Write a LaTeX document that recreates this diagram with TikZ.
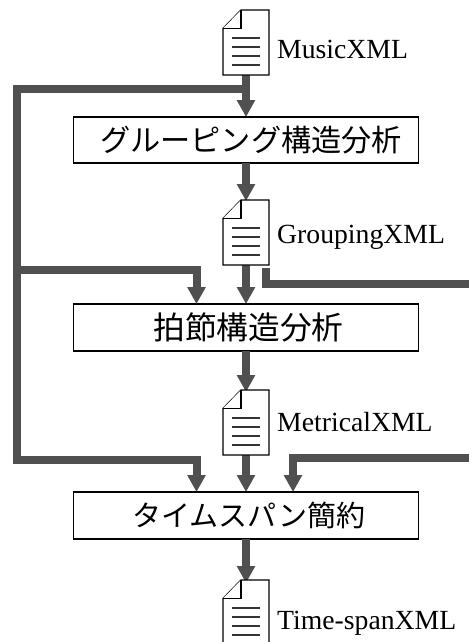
\documentclass[tikz,border=0pt]{standalone}
\usepackage{fontspec}
\setmainfont{Liberation Serif}
\newfontfamily\cjkfont{Noto Sans CJK JP}
\usetikzlibrary{arrows.meta}
\definecolor{flowgray}{HTML}{505050}
\tikzset{
  procbox/.style={draw=black,line width=1.2pt,fill=white,minimum width=345pt,minimum height=46pt,inner sep=0pt,outer sep=0pt,anchor=north west},
  docbox/.style={minimum width=46pt,minimum height=65pt,inner sep=0pt,outer sep=0pt,anchor=north west},
  docline/.style={draw=black,line width=1.3pt,fill=white,line join=miter},
  docrule/.style={draw=black!80,line width=1.1pt},
  doclabel/.style={anchor=base west,inner sep=0pt,font=\fontsize{27.7}{30}\selectfont},
  flow/.style={draw=flowgray,line width=8pt,line cap=butt,line join=miter},
  flowarrow/.style={flow,-{Triangle[width=17.5pt,length=17pt]}},
}
\newcommand{\docicon}[1]{%
  \draw[docline] ([xshift=18pt]#1.north west) -- (#1.north east) -- (#1.south east) -- (#1.south west) -- ([yshift=-18.5pt]#1.north west) -- cycle;
  \draw[docline] ([xshift=18pt]#1.north west) -- ([xshift=18pt,yshift=-18.5pt]#1.north west) -- ([yshift=-18.5pt]#1.north west);
  \foreach \dy in {28,37,46,55}
    \draw[docrule] ([xshift=9pt,yshift=-\dy pt]#1.north west) -- ([xshift=37pt,yshift=-\dy pt]#1.north west);
}
\begin{document}
\begin{tikzpicture}[x=1pt,y=-1pt]
\useasboundingbox[fill=white] (0,0) rectangle (469,642);
% documents
\node[docbox] (d1) at (223,10) {};
\node[docbox] (d2) at (223,200) {};
\node[docbox] (d3) at (223,390) {};
\node[docbox] (d4) at (223,580) {};
\node[doclabel] (l1) at (277,59) {MusicXML};
\node[doclabel] (l2) at (277,243) {GroupingXML};
\node[doclabel] (l3) at (277,431) {MetricalXML};
\node[doclabel] (l4) at (277,629) {Time-spanXML};
% process boxes
\node[procbox,font=\cjkfont\fontsize{30.2}{31}\selectfont] (p1) at (73.5,117) {\hspace*{10pt}グルーピング構造分析};
\node[procbox,minimum height=47pt,font=\cjkfont\fontsize{31.7}{32}\selectfont] (p2) at (73.5,304) {\hspace*{5pt}拍節構造分析};
\node[procbox,minimum height=47pt,font=\cjkfont\fontsize{29}{30}\selectfont] (p3) at (73.5,492) {\hspace*{6pt}タイムスパン簡約};
% free ends and junctions
\coordinate (j1) at (246,89);
\coordinate (lc1) at (17,89);
\coordinate (j2) at (17,270);
\coordinate (lc2) at (17,460);
\coordinate (t2) at (196.5,304);
\coordinate (t3) at (196.5,492);
\coordinate (r1s) at (266,268);
\coordinate (r1c) at (266,284);
\coordinate (r1e) at (469,284);
\coordinate (r2s) at (469,458);
\coordinate (r2c) at (293,458);
\coordinate (r2t) at (293,492);
% main flow
\draw[flowarrow] ([yshift=2pt]d1.south) -- (p1.north);
\draw[flowarrow] (p1.south) -- ([yshift=-1pt]d2.north);
\draw[flowarrow] ([yshift=3pt]d2.south) -- (p2.north);
\draw[flowarrow] (p2.south) -- ([yshift=-2pt]d3.north);
\draw[flowarrow] (d3.south) -- (p3.north);
\draw[flowarrow] (p3.south) -- ([yshift=-3pt]d4.north);
% feedback lines
\draw[flowarrow] (j1) -- (lc1) -- (lc2) -- (t3 |- lc2) -- (t3);
\draw[flowarrow] (j2) -| (t2);
\draw[flow] (r1s) -- (r1c) -- (r1e);
\draw[flowarrow] (r2s) -- (r2c) -- (r2t);
% icons
\docicon{d1}
\docicon{d2}
\docicon{d3}
\docicon{d4}
\end{tikzpicture}
\end{document}
